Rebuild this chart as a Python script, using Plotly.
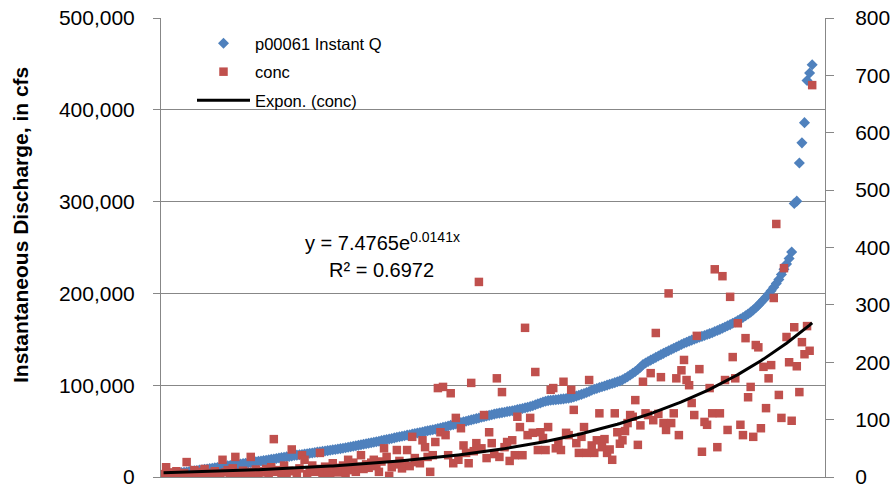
import plotly.graph_objects as go
import numpy as np

# ---- data ----
discharge = [
    2100, 2600, 3000, 3300, 3700, 4000, 4400, 4800, 5100, 5500,
    5900, 6400, 6800, 7100, 7500, 7900, 8300, 8700, 9100, 9500,
    10000, 10400, 10900, 11300, 11800, 12200, 12600, 13000, 13400, 13800,
    14200, 14600, 15000, 15400, 15900, 16300, 16700, 17100, 17500, 17900,
    18300, 18700, 19200, 19700, 20200, 20600, 21100, 21500, 22000, 22500,
    23000, 23400, 23800, 24200, 24600, 25000, 25400, 25800, 26200, 26700,
    27100, 27500, 27900, 28300, 28700, 29200, 29600, 30000, 30400, 30900,
    31400, 31900, 32500, 33000, 33500, 34100, 34600, 35100, 35600, 36200,
    36700, 37300, 37800, 38400, 39000, 39600, 40200, 40800, 41400, 42000,
    42600, 43200, 43800, 44400, 45000, 45600, 46100, 46700, 47300, 47900,
    48500, 49100, 49700, 50300, 50900, 51500, 52100, 52700, 53400, 54100,
    54800, 55500, 56300, 57000, 57800, 58500, 59300, 60100, 60800, 61500,
    62200, 62900, 63600, 64300, 65000, 65700, 66400, 67100, 67800, 68500,
    69100, 69600, 70100, 70600, 71200, 71700, 72200, 72800, 73400, 74000,
    74600, 75300, 76000, 76800, 77700, 78700, 79700, 80700, 81700, 82600,
    83200, 83600, 83900, 84200, 84500, 84800, 85100, 85500, 85900, 86400,
    87200, 88100, 89000, 90000, 91000, 92000, 93200, 94400, 95500, 96500,
    97400, 98300, 99200, 100100, 101000, 101900, 102800, 103700, 104700, 105900,
    107500, 109300, 111200, 113100, 115000, 117000, 119500, 122500, 124200, 125800,
    127300, 128800, 130300, 131900, 133300, 134700, 136100, 137500, 138900, 140300,
    141700, 143000, 144300, 145600, 146800, 148000, 149100, 150200, 151200, 152200,
    153200, 154200, 155200, 156200, 157200, 158400, 159600, 160800, 162100, 163400,
    164700, 166000, 167400, 168900, 170500, 172100, 173800, 175600, 177500, 179600,
    181900, 184400, 187100, 190000, 193000, 196200, 199300, 202800, 206600, 210800,
    215200, 220600, 226300, 232100, 238000, 245000, 298000, 300500, 342000, 364000,
    386000, 432000, 440000, 449000,
]

conc = [
    5, 17, 8, 3, 6, 10, 4, 2, 7, 26,
    3, 1, 12, 6, 9, 4, 14, 7, 5, 2,
    10, 6, 3, 30, 8, 12, 5, 15, 35, 4,
    7, 11, 3, 9, 35, 6, 13, 2, 10, 8,
    14, 5, 17, 66, 9, 12, 4, 20, 7, 11,
    48, 10, 7, 15, 38, 30, 5, 12, 20, 9,
    14, 42, 6, 18, 11, 3, 24, 16, 8, 13,
    20, 7, 30, 12, 25, 9, 18, 38, 14, 22,
    16, 25, 30, 19, 9, 27, 50, 35, 2, 17,
    22, 47, 28, 15, 24, 47, 19, 70, 33, 26,
    24, 64, 52, 35, 9, 38, 61, 155, 78, 157,
    73, 38, 146, 24, 103, 30, 85, 55, 42, 24,
    164, 45, 59, 340, 50, 108, 33, 78, 59, 40,
    172, 35, 148, 52, 61, 28, 64, 38, 105, 87,
    38, 260, 73, 103, 77, 183, 47, 78, 68, 47,
    87, 152, 155, 50, 60, 47, 166, 77, 73, 152,
    117, 59, 42, 70, 87, 42, 169, 55, 42, 64,
    111, 52, 66, 42, 48, 30, 111, 78, 58, 64,
    80, 94, 108, 105, 134, 56, 90, 166, 111, 108,
    181, 99, 251, 110, 174, 94, 82, 320, 94, 111,
    172, 73, 186, 204, 169, 160, 129, 108, 246, 188,
    44, 96, 91, 155, 111, 362, 52, 111, 350, 169,
    82, 314, 209, 172, 268, 91, 73, 242, 139, 157,
    70, 230, 226, 85, 192, 120, 172, 195, 312, 441,
    143, 103, 364, 244, 200, 98, 261, 193, 148, 235,
    214, 263, 220, 683,
]

sample_index = list(range(1, len(discharge) + 1))

# Exponential trendline coefficients shown on the chart
trend_a = 7.4765
trend_b = 0.0141
eq_text = "y = 7.4765e<sup>0.0141x</sup>"
r2_text = "R² = 0.6972"

left_ticks = [0, 100000, 200000, 300000, 400000, 500000]
right_ticks = [0, 100, 200, 300, 400, 500, 600, 700, 800]

trend_x = np.array(sample_index, dtype=float)
trend_y = trend_a * np.exp(trend_b * trend_x)

# ---- figure ----
W, H = 893, 488
L, R, T, B = 161, 68, 18, 11
pw, ph = W - L - R, H - T - B

def px_x(p):
    return (p - L) / pw

def px_y(p):
    return (H - B - p) / ph

FONT = "Liberation Sans"
GRID = "#878787"

fig = go.Figure()
fig.add_trace(go.Scatter(
    x=sample_index, y=discharge, mode="markers", name="p00061 Instant Q",
    marker=dict(symbol="diamond", size=8.5, color="#4F81BD"),
    yaxis="y", legendgroup="a",
))
fig.add_trace(go.Scatter(
    x=sample_index, y=conc, mode="markers", name="conc",
    marker=dict(symbol="square", size=8.5, color="#C0504D"),
    yaxis="y2", legendgroup="b",
))
fig.add_trace(go.Scatter(
    x=trend_x, y=trend_y, mode="lines", name="Expon. (conc)",
    line=dict(color="black", width=3),
    yaxis="y2", legendgroup="c",
))

fig.update_layout(
    width=W, height=H,
    margin=dict(l=L, r=R, t=T, b=B, pad=0, autoexpand=False),
    paper_bgcolor="white", plot_bgcolor="white",
    font=dict(family=FONT, color="black"),
    showlegend=True,
    legend=dict(
        x=px_x(192), y=px_y(26), xanchor="left", yanchor="top",
        bgcolor="rgba(0,0,0,0)", font=dict(size=16.5, family=FONT, color="black"),
        traceorder="grouped", tracegroupgap=4, itemwidth=53,
    ),
    xaxis=dict(
        range=[0, 259], showgrid=False, zeroline=False, automargin=False,
        showticklabels=False, ticks="", showline=True, linecolor=GRID, linewidth=1,
    ),
    yaxis=dict(
        range=[0, 500000], tickvals=left_ticks, tickformat=",",
        showgrid=True, gridcolor=GRID, gridwidth=1, zeroline=False,
        showline=True, linecolor=GRID, linewidth=1, automargin=False,
        ticks="outside", ticklen=7, tickcolor=GRID,
        ticklabelstandoff=14, ticklabeloverflow="allow",
        tickfont=dict(size=21, family=FONT, color="black"),
    ),
    yaxis2=dict(
        range=[0, 800], tickvals=right_ticks, overlaying="y", side="right",
        showgrid=False, zeroline=False, automargin=False,
        showline=True, linecolor=GRID, linewidth=1,
        ticks="outside", ticklen=8, tickcolor=GRID,
        ticklabelstandoff=17, ticklabeloverflow="allow",
        tickfont=dict(size=21, family=FONT, color="black"),
    ),
    annotations=[
        dict(text="<b>Instantaneous Discharge, in cfs</b>", textangle=-90,
             x=px_x(21), y=px_y(225), xref="paper", yref="paper",
             xanchor="center", yanchor="middle", showarrow=False,
             font=dict(size=21, family=FONT, color="black")),
        dict(text=eq_text, x=px_x(382), y=px_y(241), xref="paper", yref="paper",
             xanchor="center", yanchor="middle", showarrow=False,
             font=dict(size=20, family=FONT, color="black")),
        dict(text=r2_text, x=px_x(381), y=px_y(270), xref="paper", yref="paper",
             xanchor="center", yanchor="middle", showarrow=False,
             font=dict(size=20, family=FONT, color="black")),
    ],
)

fig.write_html("out.html")
